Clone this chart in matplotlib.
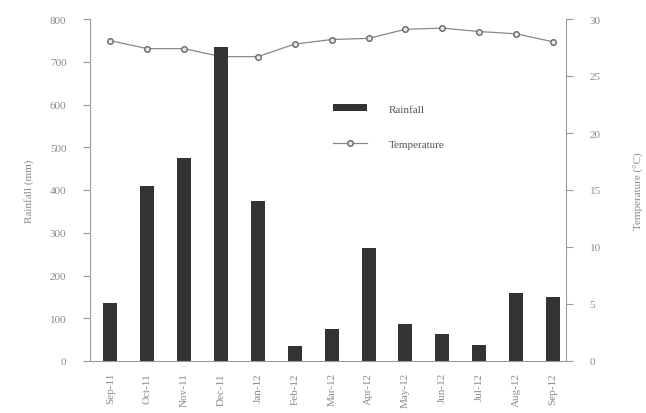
import matplotlib
matplotlib.use("Agg")
import matplotlib.pyplot as plt
import numpy as np

months = ["Sep-11", "Oct-11", "Nov-11", "Dec-11", "Jan-12", "Feb-12", "Mar-12",
          "Apr-12", "May-12", "Jun-12", "Jul-12", "Aug-12", "Sep-12"]
rainfall = [136, 410, 475, 735, 375, 35, 75, 265, 87, 62, 38, 158, 150]
temperature = [28.1, 27.4, 27.4, 26.7, 26.7, 27.8, 28.2, 28.3, 29.1, 29.2, 28.9, 28.7, 28.0]

plt.rcParams['font.family'] = ['Liberation Serif', 'DejaVu Serif']
tc = '#8a8a8a'
sc = '#9a9a9a'

fig = plt.figure(figsize=(6.46, 4.14), dpi=100)
ax = fig.add_axes([90/646, 1-362/414, (566-90)/646, (362-20)/414])
x = np.arange(len(months))
ax.bar(x, rainfall, width=0.38, color='#333333', label='Rainfall', zorder=2)
ax.set_ylim(0, 800)
ax.set_yticks(range(0, 801, 100))
ax.set_xlim(-0.55, 12.35)
ax.set_xticks(x)
ax.set_xticklabels(months, rotation=90, fontsize=8, color=tc)
ax.tick_params(axis='x', length=0, pad=8)
ax.tick_params(axis='y', labelsize=8, labelcolor=tc, color=sc, length=5, pad=12)
ax.set_ylabel('Rainfall (mm)', fontsize=8, color=tc, labelpad=11)
for s in ['top', 'right']:
    ax.spines[s].set_visible(False)
for s in ['left', 'bottom']:
    ax.spines[s].set_color(sc)
    ax.spines[s].set_linewidth(0.8)

ax2 = ax.twinx()
ax2.plot(x, temperature, color='#888888', lw=0.9, marker='o', markersize=4,
         markerfacecolor='#e8e8e8', markeredgecolor='#666666', markeredgewidth=1.0,
         label='Temperature', zorder=3)
ax2.set_ylim(0, 30)
ax2.set_yticks(range(0, 31, 5))
ax2.tick_params(axis='y', labelsize=8, labelcolor=tc, color=sc, length=5, pad=12)
ax2.set_ylabel('Temperature (°C)', fontsize=8, color=tc, rotation=90, labelpad=24)
for s in ['top', 'left', 'bottom']:
    ax2.spines[s].set_visible(False)
ax2.spines['right'].set_color(sc)
ax2.spines['right'].set_linewidth(0.8)

# bars drawn above the temperature line
ax.set_zorder(ax2.get_zorder() + 1)
ax.patch.set_visible(False)

h1, l1 = ax.get_legend_handles_labels()
h2, l2 = ax2.get_legend_handles_labels()
leg = ax.legend(h1 + h2, l1 + l2, loc='upper left', bbox_to_anchor=(0.49, 0.78),
                frameon=False, fontsize=8, labelcolor='#555555', handlelength=3.0,
                labelspacing=2.3, handletextpad=2.0, handleheight=0.6)

fig.savefig('out.png', dpi=100)
